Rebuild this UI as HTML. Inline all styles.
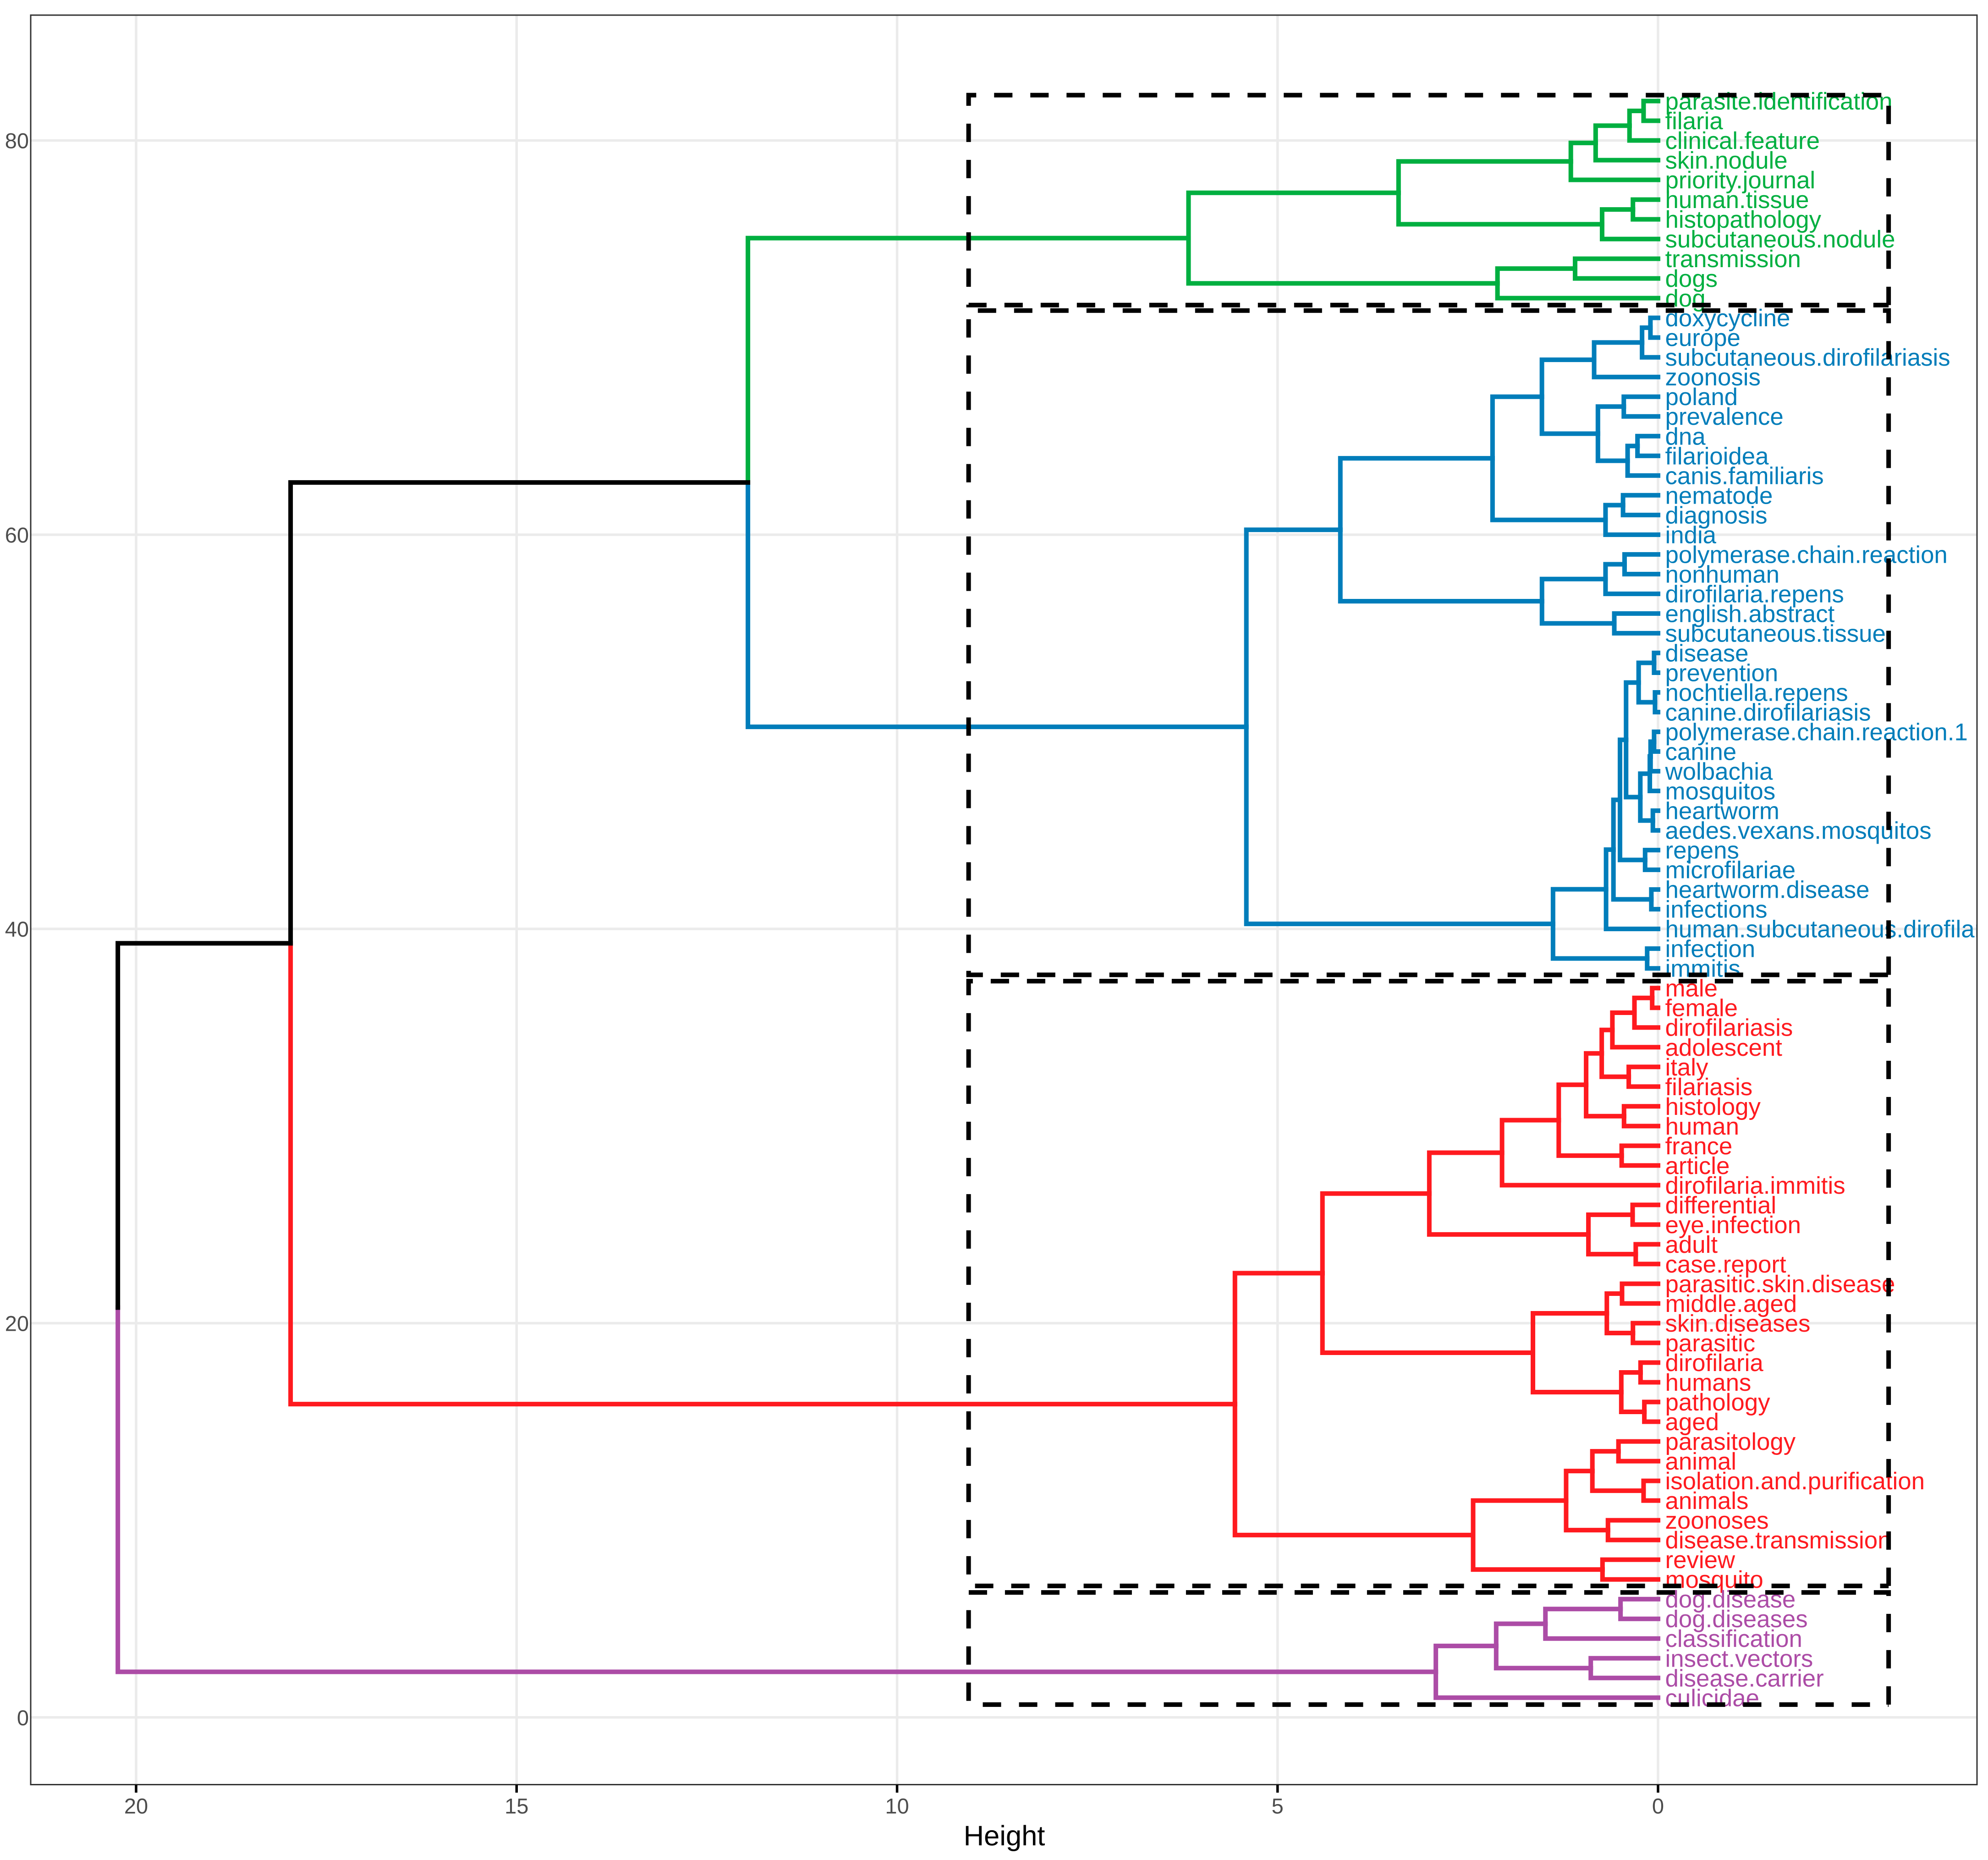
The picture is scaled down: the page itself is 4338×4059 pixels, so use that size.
<!DOCTYPE html>
<html lang="en">
<head>
<meta charset="utf-8">
<title>Cluster dendrogram</title>
<style>
html,body{margin:0;padding:0;background:#fff;}
svg{display:block;font-family:"Liberation Sans",Arial,sans-serif;text-rendering:geometricPrecision;}
</style>
</head>
<body>
<svg id="chart" xmlns="http://www.w3.org/2000/svg" width="4338" height="4059" viewBox="0 0 4338 4059">
  <defs>
    <clipPath id="panel-clip"><rect x="67" y="33" width="4247" height="3861.5"></rect></clipPath>
  </defs>
  <rect x="0" y="0" width="4338" height="4059" fill="#ffffff"></rect>
  <g id="grid"></g>
  <g id="plot" clip-path="url(#panel-clip)">
    <g id="links"></g>
    <g id="labels"></g>
    <g id="boxes"></g>
  </g>
  <rect x="67" y="33" width="4247" height="3861.5" fill="none" stroke="#333333" stroke-width="3"></rect>
  <g id="xaxis"></g>
  <g id="yaxis"></g>
  <text x="2191.5" y="4027" font-size="61.5" text-anchor="middle" fill="#000000">Height</text>
</svg>
<script>
// Leaves listed from the top of the chart (y = 82) to the bottom (y = 1)
const leafLabels = [
"parasite.identification","filaria","clinical.feature","skin.nodule","priority.journal","human.tissue","histopathology","subcutaneous.nodule","transmission","dogs","dog",
"doxycycline","europe","subcutaneous.dirofilariasis","zoonosis","poland","prevalence","dna","filarioidea","canis.familiaris","nematode","diagnosis","india","polymerase.chain.reaction","nonhuman","dirofilaria.repens","english.abstract","subcutaneous.tissue","disease","prevention","nochtiella.repens","canine.dirofilariasis","polymerase.chain.reaction.1","canine","wolbachia","mosquitos","heartworm","aedes.vexans.mosquitos","repens","microfilariae","heartworm.disease","infections","human.subcutaneous.dirofilariasis","infection","immitis",
"male","female","dirofilariasis","adolescent","italy","filariasis","histology","human","france","article","dirofilaria.immitis","differential","eye.infection","adult","case.report","parasitic.skin.disease","middle.aged","skin.diseases","parasitic","dirofilaria","humans","pathology","aged","parasitology","animal","isolation.and.purification","animals","zoonoses","disease.transmission","review","mosquito",
"dog.disease","dog.diseases","classification","insect.vectors","disease.carrier","culicidae"];
// Number of leaves in each cluster, top to bottom
const clusterSizes = [11, 34, 31, 6];
const clusterNames = ["green", "blue", "red", "purple"];
const clusterColors = ["#00AF40", "#007DBA", "#FF1A1F", "#AC4CA6"];
// Merges: a positive number is a leaf's y position, a negative number is a 1-based earlier merge
const mergeLeft = [82,-1,-2,-3,77,-5,-4,74,-8,-7,
71,-11,-12,67,65,-15,-14,-13,62,-19,-18,59,-22,56,-23,-21,
54,52,-27,50,-30,-31,46,-32,-29,44,-35,42,-37,-39,39,-40,-26,-10,
37,-45,-46,33,-47,31,-49,29,-51,-53,26,24,-55,-54,22,20,-59,18,16,-62,-61,-58,14,12,-67,10,-69,8,-71,-66,-44,
6,-76,3,-77,-79,-75];
const mergeRight = [81,80,79,78,76,75,-6,73,72,-9,
70,69,68,66,64,63,-16,-17,61,60,-20,58,57,55,-24,-25,
53,51,-28,49,48,47,45,-33,-34,43,-36,41,-38,40,38,-41,-42,-43,
36,35,34,32,-48,30,-50,28,-52,27,25,23,-56,-57,21,19,-60,17,15,-63,-64,-65,13,11,-68,9,-70,7,-72,-73,-74,
5,4,2,-78,1,-80];
const mergeHeights = [0.19,0.375,0.82,1.146,0.33,0.735,3.41,1.09,2.11,6.17,
0.10,0.21,0.84,0.45,0.27,0.40,0.79,1.526,0.46,0.69,2.175,0.44,0.69,0.575,1.525,4.175,
0.052,0.04,0.255,0.052,0.098,0.108,0.068,0.233,0.42,0.17,0.50,0.088,0.586,0.683,0.143,1.38,5.41,11.96,
0.077,0.31,0.60,0.385,0.74,0.447,0.945,0.478,1.305,2.05,0.334,0.293,0.915,3.006,0.473,0.33,0.673,0.23,0.18,0.483,1.644,4.41,0.52,0.19,0.863,0.658,1.208,0.73,2.43,5.56,17.97,
0.493,1.48,0.884,2.127,2.92,20.24];
// Cluster rectangles, in data units, one per cluster
const boxBottoms = [71.65, 37.67, 6.67, 0.65];
const boxTops = [82.3, 71.37, 37.35, 6.34];
const boxHeightMax = [9.06, 9.06, 9.06, 9.06];
const boxHeightMin = [-3.03, -3.03, -3.03, -3.03];
// Axis ticks
const xTicks = [20, 15, 10, 5, 0];
const yTicks = [0, 20, 40, 60, 80];

const SVGNS = "http://www.w3.org/2000/svg";
const xScale = function (h) { return 3618 - 166.05 * h; };
const yScale = function (v) { return 3747.8 - 43.016 * v; };

const leafCount = leafLabels.length;
function leafColor(y) {
  let idx = leafCount - y;
  for (let c = 0; c < clusterSizes.length; c++) {
    if (idx < clusterSizes[c]) return clusterColors[c];
    idx -= clusterSizes[c];
  }
  return "#000000";
}

// Grid
const gridG = document.getElementById("grid");
xTicks.forEach(function (t) {
  const l = document.createElementNS(SVGNS, "line");
  
  
  l.setAttribute("x1", xScale(t));
  l.setAttribute("x2", xScale(t));
  l.setAttribute("y1", 33);
  l.setAttribute("y2", 3894.5);
  l.setAttribute("stroke", "#EBEBEB");
  l.setAttribute("stroke-width", 5.5);
  gridG.appendChild(l);
});
yTicks.forEach(function (t) {
  const l = document.createElementNS(SVGNS, "line");
  
  
  l.setAttribute("x1", 67);
  l.setAttribute("x2", 4314);
  l.setAttribute("y1", yScale(t));
  l.setAttribute("y2", yScale(t));
  l.setAttribute("stroke", "#EBEBEB");
  l.setAttribute("stroke-width", 5.5);
  gridG.appendChild(l);
});

// Branches
const nodes = [];
function childInfo(ref) {
  if (ref > 0) return { y: ref, h: 0, color: leafColor(ref) };
  return nodes[-ref - 1];
}
const linksG = document.getElementById("links");
function drawLink(parent, child, idx, side) {
  const p = document.createElementNS(SVGNS, "path");
  
  
  p.setAttribute("d", "M" + xScale(parent.h) + " " + yScale(parent.y) + "L" + xScale(parent.h) + " " + yScale(child.y) + "L" + xScale(child.h) + " " + yScale(child.y));
  p.setAttribute("fill", "none");
  p.setAttribute("stroke", child.color);
  p.setAttribute("stroke-width", 10);
  p.setAttribute("stroke-linecap", "square");
  p.setAttribute("stroke-linejoin", "miter");
  linksG.appendChild(p);
}
mergeHeights.forEach(function (h, i) {
  const a = childInfo(mergeLeft[i]);
  const b = childInfo(mergeRight[i]);
  const node = { y: (a.y + b.y) / 2, h: h, color: a.color === b.color ? a.color : "#000000" };
  nodes.push(node);
  drawLink(node, b, i, "lower");
  drawLink(node, a, i, "upper");
});

// Leaf labels
const labelsG = document.getElementById("labels");
leafLabels.forEach(function (name, i) {
  const y = leafCount - i;
  const t = document.createElementNS(SVGNS, "text");
  
  
  t.setAttribute("x", xScale(0) + 15.5);
  t.setAttribute("y", yScale(y) + 18.5);
  t.setAttribute("font-size", 52.8);
  t.setAttribute("fill", leafColor(y));
  t.textContent = name;
  labelsG.appendChild(t);
});

// Cluster boxes: path starts at the bottom-right corner and runs anticlockwise
const boxesG = document.getElementById("boxes");
boxTops.forEach(function (top, i) {
  const xl = xScale(boxHeightMax[i]);
  const xr = xScale(boxHeightMin[i]);
  const yt = yScale(top);
  const yb = yScale(boxBottoms[i]);
  const p = document.createElementNS(SVGNS, "path");
  
  
  p.setAttribute("d", "M" + xr + " " + yb + "L" + xr + " " + yt + "L" + xl + " " + yt + "L" + xl + " " + yb + "L" + xr + " " + yb);
  p.setAttribute("fill", "none");
  p.setAttribute("stroke", "#000000");
  p.setAttribute("stroke-width", 10);
  p.setAttribute("stroke-dasharray", "40 39");
  boxesG.appendChild(p);
});

// Axes
const xAxisG = document.getElementById("xaxis");
xTicks.forEach(function (t) {
  const tick = document.createElementNS(SVGNS, "line");
  
  
  tick.setAttribute("x1", xScale(t));
  tick.setAttribute("x2", xScale(t));
  tick.setAttribute("y1", 3895);
  tick.setAttribute("y2", 3912);
  tick.setAttribute("stroke", "#000000");
  tick.setAttribute("stroke-width", 5.5);
  xAxisG.appendChild(tick);
  const lab = document.createElementNS(SVGNS, "text");
  
  
  lab.setAttribute("x", xScale(t));
  lab.setAttribute("y", 3957.5);
  lab.setAttribute("font-size", 47);
  lab.setAttribute("text-anchor", "middle");
  lab.setAttribute("fill", "#4D4D4D");
  lab.textContent = String(t);
  xAxisG.appendChild(lab);
});
const yAxisG = document.getElementById("yaxis");
yTicks.forEach(function (t) {
  const lab = document.createElementNS(SVGNS, "text");
  
  
  lab.setAttribute("x", 63);
  lab.setAttribute("y", yScale(t) + 17);
  lab.setAttribute("font-size", 47);
  lab.setAttribute("text-anchor", "end");
  lab.setAttribute("fill", "#4D4D4D");
  lab.textContent = String(t);
  yAxisG.appendChild(lab);
});
</script>
</body>
</html>
